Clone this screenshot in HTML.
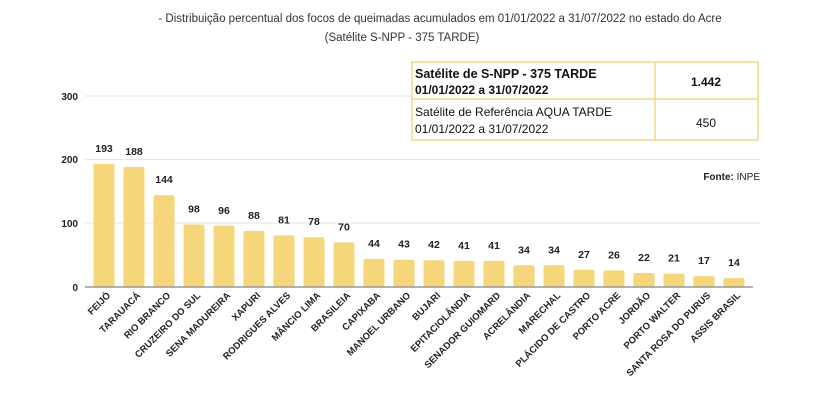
<!DOCTYPE html>
<html><head><meta charset="utf-8"><style>
body{margin:0;background:#fff;width:828px;height:420px;overflow:hidden;font-family:"Liberation Sans",sans-serif}
svg{position:absolute;left:0;top:0}
</style></head><body>
<svg id="c" width="828" height="420" xmlns="http://www.w3.org/2000/svg">
<text x="440" y="22" font-size="11.5" text-anchor="middle" fill="#333">- Distribuição percentual dos focos de queimadas acumulados em 01/01/2022 a 31/07/2022 no estado do Acre</text>
<text x="402" y="41" font-size="11.5" text-anchor="middle" fill="#333">(Satélite S-NPP - 375 TARDE)</text>
<g stroke="#e6e6e6" stroke-width="1">
<line x1="85" x2="760" y1="96" y2="96"/><line x1="85" x2="760" y1="159.5" y2="159.5"/><line x1="85" x2="760" y1="223" y2="223"/>
</g>
<g font-size="10" font-weight="bold" fill="#222" text-anchor="end">
<text x="78" y="100">300</text><text x="78" y="163">200</text><text x="78" y="227">100</text><text x="78" y="291">0</text>
</g>
<rect x="412" y="62" width="346" height="78" fill="#fff" stroke="#f0d88a" stroke-width="1.5"/>
<line x1="412" x2="758" y1="99" y2="99" stroke="#f0d88a" stroke-width="1.5"/>
<line x1="655" x2="655" y1="62" y2="140" stroke="#f0d88a" stroke-width="1.5"/>
<g font-size="12" fill="#111">
<text x="415" y="78" font-weight="bold" font-size="12.5">Satélite de S-NPP - 375 TARDE</text>
<text x="415" y="94" font-weight="bold">01/01/2022 a 31/07/2022</text>
<text x="706" y="86" font-weight="bold" text-anchor="middle">1.442</text>
<text x="415" y="116">Satélite de Referência AQUA TARDE</text>
<text x="415" y="133">01/01/2022 a 31/07/2022</text>
<text x="706" y="127" text-anchor="middle">450</text>
</g>
<text x="760" y="180" font-size="10" text-anchor="end" fill="#222"><tspan font-weight="bold">Fonte:</tspan> INPE</text>
<g id="bars"></g>
<line x1="85" x2="753" y1="287" y2="287" stroke="#999" stroke-width="1.5"/>
</svg>
<script>
var d=[["FEIJÓ",193],["TARAUACÁ",188],["RIO BRANCO",144],["CRUZEIRO DO SUL",98],["SENA MADUREIRA",96],["XAPURI",88],["RODRIGUES ALVES",81],["MÂNCIO LIMA",78],["BRASILEIA",70],["CAPIXABA",44],["MANOEL URBANO",43],["BUJARI",42],["EPITACIOLÂNDIA",41],["SENADOR GUIOMARD",41],["ACRELÂNDIA",34],["MARECHAL",34],["PLÁCIDO DE CASTRO",27],["PORTO ACRE",26],["JORDÃO",22],["PORTO WALTER",21],["SANTA ROSA DO PURUS",17],["ASSIS BRASIL",14]];
var s="";
d.forEach(function(e,i){var cx=104+i*30,h=e[1]*0.638,t=287-h;
s+='<rect x="'+(cx-10.5)+'" y="'+t+'" width="21" height="'+h+'" rx="2" fill="#f5d67a"/>';
s+='<text x="'+cx+'" y="'+(t-12)+'" font-size="10.5" font-weight="bold" fill="#222" text-anchor="middle">'+e[1]+'</text>';
s+='<text transform="translate('+(cx+7)+',296) rotate(-45)" font-size="9.5" font-weight="bold" fill="#222" text-anchor="end">'+e[0]+'</text>';});
document.getElementById("bars").innerHTML=s;
</script>
</body></html>
